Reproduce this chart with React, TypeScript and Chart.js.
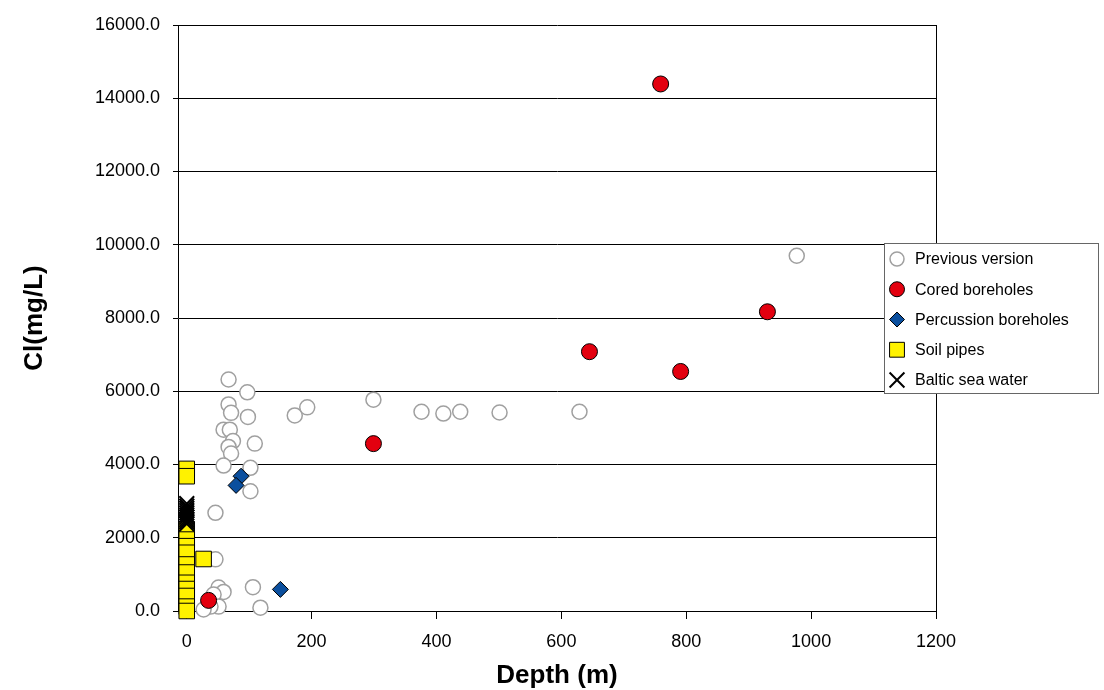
import React, { useEffect, useRef } from 'react';
import { Chart, registerables } from 'chart.js';
import { drawPoint } from 'chart.js/helpers';

Chart.register(...registerables);

const FONT = "'Liberation Sans', Arial, Helvetica, sans-serif";

// Previous version
const prevDepth = [67, 97, 67, 71, 98, 59, 69, 74, 109, 67, 71, 59, 102, 102, 46, 46, 106, 51, 59, 43, 51, 38, 118, 27, 173, 193, 299, 376, 411, 438, 501, 629, 977];
const prevCl = [6320, 5970, 5640, 5410, 5300, 4950, 4950, 4640, 4570, 4480, 4300, 3970, 3910, 3270, 2680, 1410, 650, 640, 520, 450, 120, 120, 90, 40, 5340, 5560, 5770, 5440, 5390, 5440, 5420, 5440, 9700];

// Cored boreholes
const coredDepth = [759, 645, 791, 930, 299, 35];
const coredCl = [14390, 7080, 6540, 8170, 4570, 290];

// Percussion boreholes
const percDepth = [87, 79, 150];
const percCl = [3680, 3430, 590];

// Soil pipes
const soilDepth = [0, 0, 0, 0, 0, 0, 0, 0, 0, 0, 0, 0, 0, 27];
const soilCl = [3880, 3680, 2230, 1950, 1770, 1590, 1270, 1050, 770, 600, 410, 120, 0, 1420];

// Baltic sea water
const balticDepth = [0, 0, 0, 0, 0, 0, 0, 0, 0, 0];
const balticCl = [2930, 2860, 2800, 2740, 2680, 2620, 2560, 2500, 2440, 2380];

const xTicks = [0, 200, 400, 600, 800, 1000, 1200];
const yTicks = [0, 2000, 4000, 6000, 8000, 10000, 12000, 14000, 16000];

const seriesLabels = ['Previous version', 'Cored boreholes', 'Percussion boreholes', 'Soil pipes', 'Baltic sea water'];
const legendRadius = [7, 7.5, 7.5, 10.5, 10.5];

const toPts = (xs: number[], ys: number[]) => xs.map((x, i) => ({ x, y: ys[i] }));

const boxLegend = {
  id: 'boxLegend',
  afterDraw(chart: any) {
    const ctx = chart.ctx;
    ctx.save();
    ctx.fillStyle = '#ffffff';
    ctx.strokeStyle = '#666666';
    ctx.lineWidth = 1;
    ctx.fillRect(884.5, 243.5, 214, 150);
    ctx.strokeRect(884.5, 243.5, 214, 150);
    chart.data.datasets.forEach((ds: any, i: number) => {
      const y = 259 + i * 30.25;
      ctx.save();
      ctx.fillStyle = ds.backgroundColor;
      ctx.strokeStyle = ds.borderColor;
      ctx.lineWidth = ds.borderWidth;
      drawPoint(ctx, { pointStyle: ds.pointStyle, radius: legendRadius[i], rotation: 0, borderWidth: ds.borderWidth }, 897, y);
      ctx.restore();
      ctx.fillStyle = '#000';
      ctx.font = `16px ${FONT}`;
      ctx.textBaseline = 'middle';
      ctx.textAlign = 'left';
      ctx.fillText(ds.label, 915, y + 1);
    });
    ctx.restore();
  },
};

export default function App() {
  const ref = useRef<HTMLCanvasElement | null>(null);

  useEffect(() => {
    if (!ref.current) return;
    const chart = new Chart(ref.current, {
      type: 'scatter',
      data: {
        datasets: [
          {
            label: seriesLabels[0],
            data: toPts(prevDepth, prevCl),
            pointStyle: 'circle',
            pointRadius: 7.5,
            pointHoverRadius: 7.5,
            backgroundColor: '#ffffff',
            borderColor: '#a0a0a0',
            borderWidth: 1.5,
            clip: false,
            order: 5,
          },
          {
            label: seriesLabels[1],
            data: toPts(coredDepth, coredCl),
            pointStyle: 'circle',
            pointRadius: 8,
            pointHoverRadius: 8,
            backgroundColor: '#e3000f',
            borderColor: '#000000',
            borderWidth: 1,
            clip: false,
            order: 4,
          },
          {
            label: seriesLabels[2],
            data: toPts(percDepth, percCl),
            pointStyle: 'rectRot',
            pointRadius: 8,
            pointHoverRadius: 8,
            backgroundColor: '#0b4f9e',
            borderColor: '#000000',
            borderWidth: 1,
            clip: false,
            order: 3,
          },
          {
            label: seriesLabels[3],
            data: toPts(soilDepth, soilCl),
            pointStyle: 'rect',
            pointRadius: 11,
            pointHoverRadius: 11,
            backgroundColor: '#fff200',
            borderColor: '#000000',
            borderWidth: 1,
            clip: false,
            order: 2,
          },
          {
            label: seriesLabels[4],
            data: toPts(balticDepth, balticCl),
            pointStyle: 'crossRot',
            pointRadius: 10.5,
            pointHoverRadius: 10.5,
            backgroundColor: '#000000',
            borderColor: '#000000',
            borderWidth: 2,
            clip: false,
            order: 1,
          },
        ] as any,
      },
      options: {
        animation: false,
        responsive: false,
        events: [],
        layout: { padding: { left: 0, right: 168, top: 25, bottom: 0 } },
        plugins: {
          legend: { display: false },
          tooltip: { enabled: false },
        },
        scales: {
          x: {
            type: 'linear',
            min: -14,
            max: 1200,
            afterBuildTicks: (s: any) => {
              s.ticks = xTicks.map((v) => ({ value: v }));
            },
            afterFit: (s: any) => {
              s.height = 79;
            },
            ticks: {
              autoSkip: false,
              maxRotation: 0,
              color: '#000',
              padding: 12,
              font: { family: FONT, size: 18 },
              callback: (v: any) => String(v),
            },
            grid: {
              drawOnChartArea: true,
              color: (c: any) => (c.tick && c.tick.value === 1200 ? '#000' : 'rgba(0,0,0,0)'),
              tickColor: '#000',
              tickLength: 8,
              lineWidth: 1,
            },
            border: { display: true, color: '#000', width: 1 },
            title: {
              display: true,
              text: 'Depth (m)',
              color: '#000',
              font: { family: FONT, size: 26, weight: 'bold', lineHeight: 1 },
              padding: { top: 0, bottom: 1 },
            },
          },
          y: {
            type: 'linear',
            min: 0,
            max: 16000,
            afterBuildTicks: (s: any) => {
              s.ticks = yTicks.map((v) => ({ value: v }));
            },
            afterFit: (s: any) => {
              s.width = 178;
            },
            ticks: {
              color: '#000',
              padding: 13,
              font: { family: FONT, size: 18 },
              callback: (v: any) => Number(v).toFixed(1),
            },
            grid: {
              color: '#000',
              tickColor: '#000',
              tickLength: 5,
              lineWidth: 1,
            },
            border: { display: true, color: '#000', width: 1 },
            title: {
              display: true,
              text: 'Cl(mg/L)',
              color: '#000',
              font: { family: FONT, size: 26, weight: 'bold', lineHeight: 1.2 },
              padding: { top: 19, bottom: 0 },
            },
          },
        },
      } as any,
      plugins: [boxLegend],
    });
    return () => chart.destroy();
  }, []);

  return (
    <div style={{ position: 'absolute', left: 0, top: 0, width: 1104, height: 690, background: '#fff' }}>
      <canvas ref={ref} width={1104} height={690} style={{ display: 'block' }} />
    </div>
  );
}
